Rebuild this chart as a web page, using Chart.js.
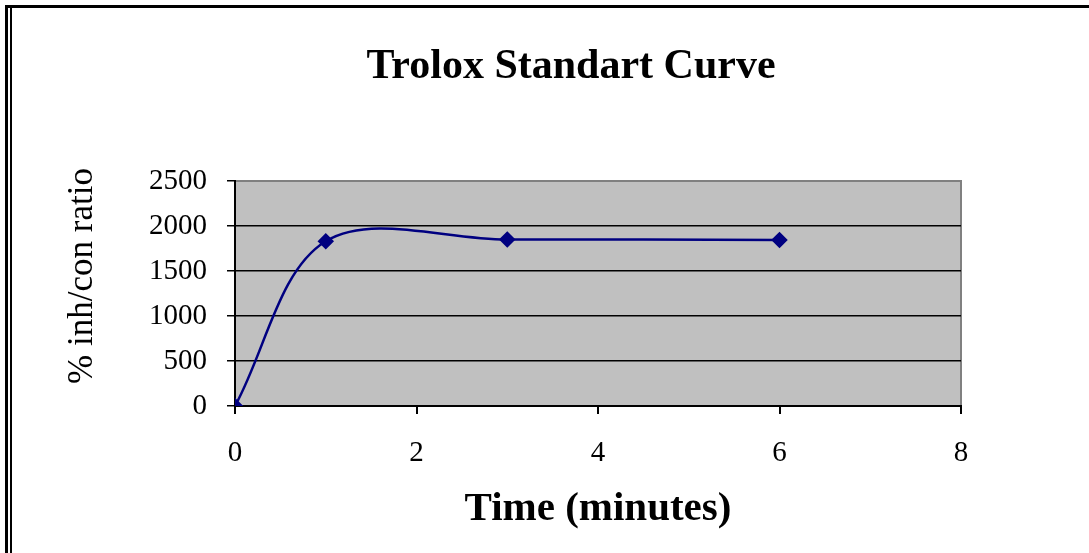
<!DOCTYPE html>
<html>
<head>
<meta charset="utf-8">
<script src="https://cdn.jsdelivr.net/npm/chart.js@4/dist/chart.umd.min.js"></script>
<style>
	body { margin: 0; background: #fff; }
	#wrap { position: relative; width: 1089px; height: 553px; }
	#frameOuter { position: absolute; left: 5px; top: 5px; right: 0; bottom: 0; border-top: 3px solid #000; border-left: 3px solid #000; }
	#frameInner { position: absolute; left: 10px; top: 8px; bottom: 0; border-left: 2px solid #000; }
</style>
</head>
<body>
<div id="wrap">
	<canvas id="myChart" width="1089" height="553"></canvas>
	<div id="frameOuter"></div>
	<div id="frameInner"></div>
</div>
<script>
const times = [0, 1, 3, 6];
const ratios = [0, 1830, 1850, 1845];
const xTicks = [0, 2, 4, 6, 8];
const yTicks = [0, 500, 1000, 1500, 2000, 2500];

const serif = "'Liberation Serif', 'Times New Roman', serif";

// grey plot area with a darker top / right edge, like the Excel original
const plotBackground = {
	id: "plotBackground",
	beforeDraw(chart) {
		const { ctx, chartArea: a } = chart;
		ctx.save();
		ctx.fillStyle = "#C0C0C0";
		ctx.fillRect(a.left, a.top, a.right - a.left, a.bottom - a.top);
		ctx.strokeStyle = "#808080";
		ctx.lineWidth = 2;
		ctx.beginPath();
		ctx.moveTo(a.left, a.top);
		ctx.lineTo(a.right, a.top);
		ctx.lineTo(a.right, a.bottom);
		ctx.stroke();
		ctx.restore();
	},
};

const ctx = document.getElementById("myChart");

new Chart(ctx, {
	type: "line",
	data: {
		datasets: [
			{
				data: times.map((t, i) => ({ x: t, y: ratios[i] })),
				borderColor: "#000080",
				backgroundColor: "#000080",
				borderWidth: 2.5,
				pointStyle: "rectRot",
				pointRadius: 6.5,
				tension: 0.34,
			},
		],
	},
	options: {
		responsive: false,
		animation: false,
		layout: { padding: { left: 60, right: 7, top: 0, bottom: 0 } },
		plugins: {
			legend: { display: false },
			tooltip: { enabled: false },
			title: {
				display: true,
				text: "Trolox Standart Curve",
				color: "#000",
				font: { family: serif, size: 42, weight: "bold" },
				padding: { top: 42, bottom: 88.6 },
			},
		},
		scales: {
			x: {
				type: "linear",
				min: 0,
				max: 8,
				afterBuildTicks: (s) => { s.ticks = xTicks.map((v) => ({ value: v })); },
				afterFit: (s) => { s.height = 147; },
				ticks: { color: "#000", font: { family: serif, size: 29 }, padding: 22 },
				grid: { drawOnChartArea: false, tickLength: 8, tickColor: "#000", lineWidth: 2 },
				border: { color: "#000", width: 2 },
				title: {
					display: true,
					text: "Time (minutes)",
					color: "#000",
					font: { family: serif, size: 41, weight: "bold" },
					padding: { top: 0, bottom: 19 },
				},
			},
			y: {
				min: 0,
				max: 2500,
				afterBuildTicks: (s) => { s.ticks = yTicks.map((v) => ({ value: v })); },
				afterFit: (s) => { s.width = 175; },
				ticks: {
					color: "#000",
					font: { family: serif, size: 29 },
					padding: 20,
					callback: (v) => String(v),
				},
				grid: {
					color: (c) => (c.tick && c.tick.value === 2500 ? "#808080" : "#000"),
					tickColor: "#000",
					tickLength: 8,
					lineWidth: 1.5,
				},
				border: { color: "#000", width: 2 },
				title: {
					display: true,
					// leading spaces nudge the rotated label up a little, as in the original
					text: "    % inh/con ratio",
					color: "#000",
					font: { family: serif, size: 35 },
					padding: { top: 1.5, bottom: 0 },
				},
			},
			// empty spacer on the right so the chart title sits where the original has it
			spacer: {
				type: "linear",
				position: "right",
				display: true,
				ticks: { display: false },
				grid: { display: false },
				border: { display: false },
				afterFit: (s) => { s.width = 121; },
			},
		},
	},
	plugins: [plotBackground],
});
</script>
</body>
</html>
